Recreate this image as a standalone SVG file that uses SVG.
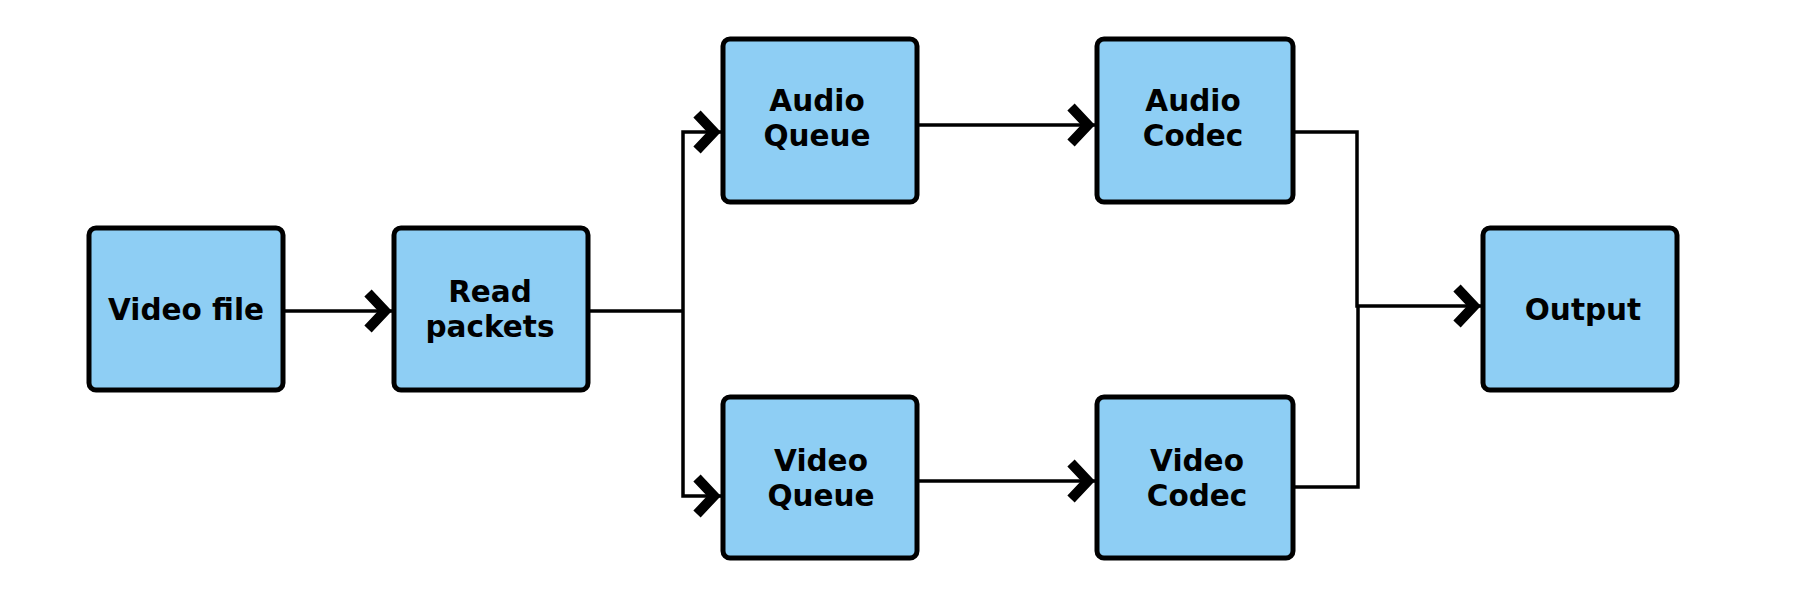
<svg xmlns="http://www.w3.org/2000/svg" width="1800" height="600" viewBox="0 0 1800 600">
<style>
.box{fill:#8ECEF4;stroke:#000;stroke-width:5}
.lbl{font-family:"DejaVu Sans",Verdana,sans-serif;font-weight:bold;font-size:29.5px;fill:#000;text-anchor:middle}
.wire{fill:none;stroke:#000;stroke-width:3.5}
.arr{marker-end:url(#chev)}
</style>
<defs>
<marker id="chev" markerUnits="userSpaceOnUse" viewBox="-30 -25 35 50" markerWidth="35" markerHeight="50" refX="0" refY="0" orient="auto" overflow="visible">
<path d="M-24,-18 L-7,0 L-24,18" fill="none" stroke="#000" stroke-width="10" stroke-linejoin="miter" stroke-miterlimit="10"/>
</marker>
</defs>
<rect width="1800" height="600" fill="#fff"/>
<g id="connectors">
<path class="wire arr" d="M284,311 L392,311"/>
<path class="wire" d="M590,311 L683,311"/>
<path class="wire arr" d="M683,311 L683,132 L721,132"/>
<path class="wire arr" d="M683,311 L683,496 L721,496"/>
<path class="wire arr" d="M919,125 L1095,125"/>
<path class="wire arr" d="M919,481 L1095,481"/>
<path class="wire arr" d="M1295,132 L1357,132 L1357,306 L1481,306"/>
<path class="wire" d="M1295,487 L1358,487 L1358,306"/>
</g>
<g id="video-file">
<rect class="box" x="89" y="228" width="194" height="162" rx="7"/>
<text class="lbl" x="186" y="320">Video file</text>
</g>
<g id="read-packets">
<rect class="box" x="394" y="228" width="194" height="162" rx="7"/>
<text class="lbl" x="490" y="302">Read</text>
<text class="lbl" x="490" y="337">packets</text>
</g>
<g id="audio-queue">
<rect class="box" x="723" y="39" width="194" height="163" rx="7"/>
<text class="lbl" x="817" y="111">Audio</text>
<text class="lbl" x="817" y="146">Queue</text>
</g>
<g id="video-queue">
<rect class="box" x="723" y="397" width="194" height="161" rx="7"/>
<text class="lbl" x="821" y="471">Video</text>
<text class="lbl" x="821" y="506">Queue</text>
</g>
<g id="audio-codec">
<rect class="box" x="1097" y="39" width="196" height="163" rx="7"/>
<text class="lbl" x="1193" y="111">Audio</text>
<text class="lbl" x="1193" y="146">Codec</text>
</g>
<g id="video-codec">
<rect class="box" x="1097" y="397" width="196" height="161" rx="7"/>
<text class="lbl" x="1197" y="471">Video</text>
<text class="lbl" x="1197" y="506">Codec</text>
</g>
<g id="output">
<rect class="box" x="1483" y="228" width="194" height="162" rx="7"/>
<text class="lbl" x="1583" y="320">Output</text>
</g>
</svg>
